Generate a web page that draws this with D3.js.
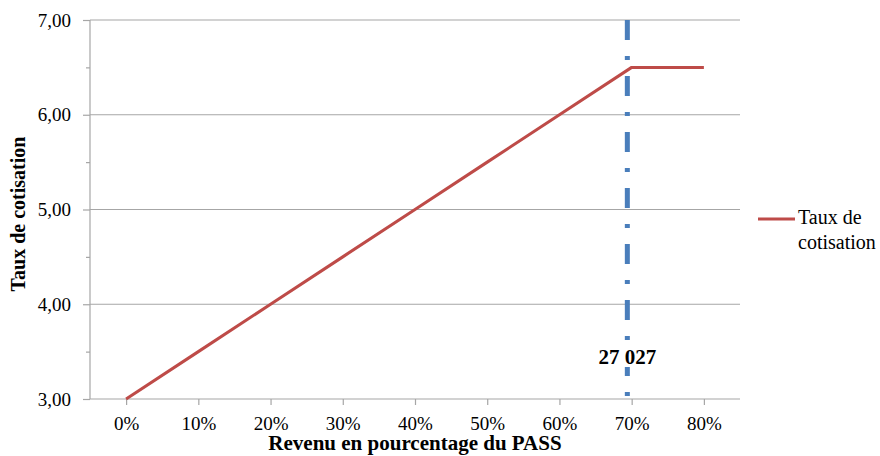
<!DOCTYPE html>
<html>
<head>
<meta charset="utf-8">
<script src="https://cdn.jsdelivr.net/npm/d3@7/dist/d3.min.js"></script>
<style>
  html, body { margin: 0; padding: 0; background: #fff; }
  svg { display: block; font-family: "Liberation Serif", "Times New Roman", serif; }
</style>
</head>
<body>
<svg id="chart" width="880" height="456"></svg>
<script>
// Revenue as share of the PASS (%) and the matching contribution rate
const revenuPct = [0, 10, 20, 30, 40, 50, 60, 70, 80];
const tauxCotisation = [3.0, 3.5, 4.0, 4.5, 5.0, 5.5, 6.0, 6.5, 6.5];
const xTicks = [0, 10, 20, 30, 40, 50, 60, 70, 80];
const yTicks = [3, 4, 5, 6, 7];
const yMinorTicks = [3.5, 4.5, 5.5, 6.5];
const seuilPct = 69.4;          // income threshold marker
const seuilLabel = "27 027";
const seriesName = ["Taux de", "cotisation"];

(function () {
const svg = d3.select("#chart");
const pLeft = 90, pRight = 740, pTop = 20, pBottom = 399;

const x = d3.scaleLinear().domain([-5, 85]).range([pLeft, pRight]);
const y = d3.scaleLinear().domain([3, 7]).range([pBottom, pTop]);

const fr = d3.formatLocale({ decimal: ",", thousands: " ", grouping: [3], currency: ["", " €"] });
const fmtY = fr.format(".2f");

// horizontal gridlines
svg.append("g").selectAll("line").data(yTicks.filter(d => d > 3)).join("line")
  .attr("x1", pLeft).attr("x2", pRight)
  .attr("y1", d => y(d)).attr("y2", d => y(d))
  .attr("stroke", "#a6a6a6").attr("stroke-width", 1.2);

// y axis with major and minor ticks
const yAxis = svg.append("g").attr("transform", `translate(${pLeft},0)`)
  .call(d3.axisLeft(y).tickValues(yTicks).tickFormat(fmtY).tickSize(7).tickPadding(12));
svg.append("g").attr("transform", `translate(${pLeft},0)`)
  .call(d3.axisLeft(y).tickValues(yMinorTicks).tickFormat("").tickSize(4))
  .call(g => g.select(".domain").remove());

// x axis
const xAxis = svg.append("g").attr("transform", `translate(0,${pBottom})`)
  .call(d3.axisBottom(x).tickValues(xTicks).tickFormat(d => d + "%").tickSize(6).tickPadding(12).tickSizeOuter(0));

svg.selectAll(".domain, .tick line").attr("stroke", "#a6a6a6").attr("stroke-width", 1.2);
svg.selectAll(".tick text").attr("font-size", 19).attr("fill", "#000")
  .attr("font-family", "Liberation Serif");
yAxis.select(".domain").attr("d", `M0,${pTop}V${pBottom}`);
xAxis.select(".domain").attr("d", `M${pLeft},0H${pRight}`);

// threshold marker (dash-dot)
svg.append("line")
  .attr("x1", x(seuilPct)).attr("x2", x(seuilPct))
  .attr("y1", pTop).attr("y2", pBottom)
  .attr("stroke", "#4a7ebb").attr("stroke-width", 5)
  .attr("stroke-dasharray", "20,16,4,16");

// threshold label on white background
const lab = svg.append("g");
const labText = lab.append("text")
  .attr("x", x(seuilPct)).attr("y", 364)
  .attr("text-anchor", "middle").attr("font-size", 21).attr("font-weight", "bold")
  .text(seuilLabel);
const bb = labText.node().getBBox();
lab.insert("rect", "text").attr("x", bb.x - 2).attr("y", bb.y + 2)
  .attr("width", bb.width + 4).attr("height", bb.height - 4).attr("fill", "#fff");

// contribution rate line
svg.append("path")
  .datum(revenuPct.map((r, i) => [r, tauxCotisation[i]]))
  .attr("fill", "none").attr("stroke", "#be4b48").attr("stroke-width", 3)
  .attr("stroke-linejoin", "round")
  .attr("d", d3.line().x(d => x(d[0])).y(d => y(d[1])));

// axis titles
svg.append("text")
  .attr("x", 415).attr("y", 450).attr("text-anchor", "middle")
  .attr("font-size", 21).attr("font-weight", "bold")
  .text("Revenu en pourcentage du PASS");
svg.append("text")
  .attr("transform", "translate(25,214) rotate(-90)")
  .attr("text-anchor", "middle").attr("font-size", 20).attr("font-weight", "bold")
  .text("Taux de cotisation");

// legend
const lg = svg.append("g");
lg.append("line").attr("x1", 758).attr("x2", 795).attr("y1", 219).attr("y2", 219)
  .attr("stroke", "#be4b48").attr("stroke-width", 3);
lg.append("text").attr("x", 798).attr("y", 224).attr("font-size", 20)
  .selectAll("tspan").data(seriesName).join("tspan")
  .attr("x", 798).attr("dy", (d, i) => i ? 25 : 0).text(d => d);
})();
</script>
</body>
</html>
